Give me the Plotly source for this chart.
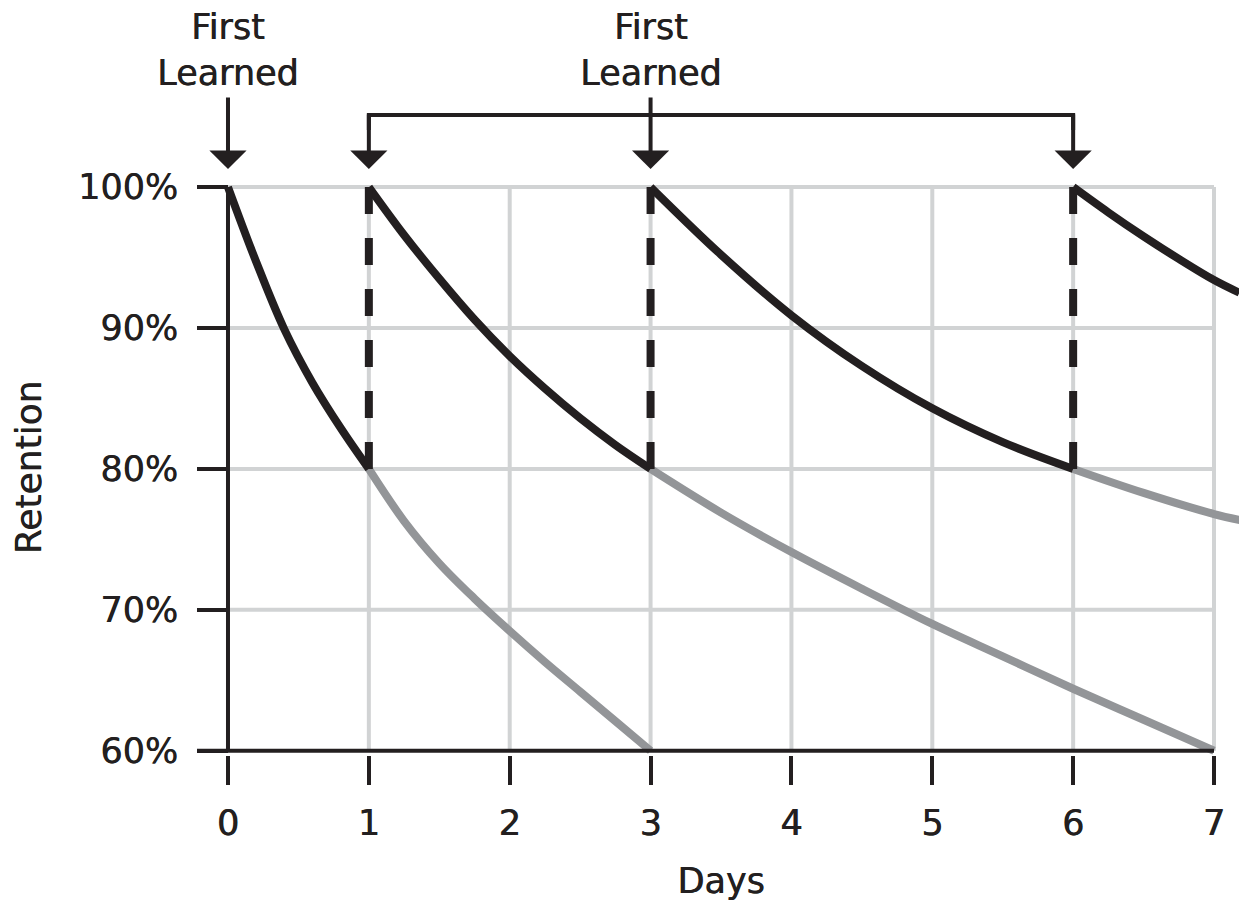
import plotly.graph_objects as go

# ---------------- data ----------------
day_ticks = [0, 1, 2, 3, 4, 5, 6, 7]
retention_ticks = [60, 70, 80, 90, 100]
retention_labels = ["60%", "70%", "80%", "90%", "100%"]
review_days = [1, 3, 6]
first_learned_days = [0, 3]
label_text = "First<br>Learned"
x_title = "Days"
y_title = "Retention"

# black curves: retention after each (re)learning
black_x1 = [0, 0.2, 0.4, 0.6, 0.8, 1]
black_y1 = [100, 94.7, 89.9, 86.1, 82.9, 80]
black_x2 = [1, 1.25, 1.5, 1.75, 2, 2.25, 2.5, 2.75, 3]
black_y2 = [100, 96.6, 93.5, 90.6, 88.0, 85.7, 83.6, 81.7, 80]
black_x3 = [3, 3.5, 4, 4.5, 5, 5.5, 6]
black_y3 = [100, 95.2, 90.9, 87.3, 84.3, 81.9, 80]
black_x4 = [6, 6.25, 6.5, 6.75, 7, 7.18]
black_y4 = [100, 98.2, 96.5, 94.9, 93.4, 92.5]

# gray curves: forgetting without review
gray_x1 = [1, 1.25, 1.5, 1.75, 2, 2.25, 2.5, 2.75, 3]
gray_y1 = [80, 76.3, 73.3, 70.8, 68.5, 66.3, 64.2, 62.1, 60]
gray_x2 = [3, 3.5, 4, 4.5, 5, 5.5, 6, 6.5, 7]
gray_y2 = [80, 76.9, 74.1, 71.5, 69.0, 66.7, 64.4, 62.2, 60]
gray_x3 = [6, 6.5, 7, 7.22]
gray_y3 = [80, 78.3, 76.8, 76.3]

# ---------------- style ----------------
INK = "#231f20"
GRAY = "#939598"
GRID = "#d1d3d4"
FONT = "DejaVu Sans"
SHADOW = "0.6px 0 0 #231f20"
OFF = 8  # page body margin
W, H = 1239, 893
ML, MR, MT, MB = 189, 2, 172, 146
x_range = [-0.22, 7.22]
y_range = [59.7, 100.5]

def fnt(size):
    return dict(family=FONT, size=size, color=INK, shadow=SHADOW)

fig = go.Figure()

line_kw = dict(width=8, shape="spline", smoothing=1.0)
for gx, gy in [(gray_x1, gray_y1), (gray_x2, gray_y2), (gray_x3, gray_y3)]:
    fig.add_trace(go.Scatter(x=gx, y=gy, mode="lines", line=dict(color=GRAY, **line_kw),
                             hoverinfo="skip", showlegend=False))
for bx, by in [(black_x1, black_y1), (black_x2, black_y2), (black_x3, black_y3), (black_x4, black_y4)]:
    fig.add_trace(go.Scatter(x=bx, y=by, mode="lines", line=dict(color=INK, **line_kw),
                             hoverinfo="skip", showlegend=False))
top, low = max(retention_ticks), 80
for d in review_days:
    fig.add_trace(go.Scatter(x=[d, d], y=[top, low], mode="lines", line=dict(color=INK, width=8, dash="27px,24px"),
                             hoverinfo="skip", showlegend=False))

shapes = []
for yv in retention_ticks[1:]:
    shapes.append(dict(type="line", xref="x", yref="y", x0=day_ticks[0], x1=day_ticks[-1], y0=yv, y1=yv,
                       line=dict(color=GRID, width=4), layer="below"))
for xv in day_ticks[1:]:
    shapes.append(dict(type="line", xref="x", yref="y", x0=xv, x1=xv, y0=retention_ticks[0], y1=retention_ticks[-1],
                       line=dict(color=GRID, width=4), layer="below"))
shapes.append(dict(type="line", xref="x", yref="y", x0=x_range[0], x1=day_ticks[-1], y0=retention_ticks[0],
                   y1=retention_ticks[0], line=dict(color=INK, width=4), layer="above"))
shapes.append(dict(type="line", xref="x", yref="y", x0=day_ticks[0], x1=day_ticks[0], y0=retention_ticks[0],
                   y1=retention_ticks[-1], line=dict(color=INK, width=4), layer="above"))

plot_h = H - MT - MB
def py(screen_px):
    return (H - MB - (screen_px - OFF)) / plot_h
y_br = py(115)
b0, b1 = review_days[0], review_days[-1]
shapes.append(dict(type="path", xref="x", yref="paper",
                   path=f"M {b0},{py(130)} L {b0},{y_br} L {b1},{y_br} L {b1},{py(130)}",
                   line=dict(color=INK, width=4)))

annotations = []
for d in first_learned_days:
    annotations.append(dict(x=d, y=top, xref="x", yref="y", text=label_text, showarrow=False, yshift=137,
                            font=fnt(35), align="center"))
    annotations.append(dict(x=d, y=top, xref="x", yref="y", text="", showarrow=True, ax=0, ay=-91,
                            arrowhead=1, arrowsize=1.55, arrowwidth=4, arrowcolor=INK, standoff=18))
for d in (b0, b1):
    annotations.append(dict(x=d, y=top, xref="x", yref="y", text="", showarrow=True, ax=0, ay=-74,
                            arrowhead=1, arrowsize=1.55, arrowwidth=4, arrowcolor=INK, standoff=18))

fig.update_layout(
    width=W, height=H, margin=dict(l=ML, r=MR, t=MT, b=MB, pad=0),
    paper_bgcolor="white", plot_bgcolor="white",
    font=fnt(35),
    shapes=shapes, annotations=annotations, showlegend=False,
    xaxis=dict(range=x_range, tickvals=day_ticks, ticktext=[str(d) for d in day_ticks],
               ticks="outside", ticklen=29, tickwidth=4, tickcolor=INK,
               showgrid=False, zeroline=False, showline=False, ticklabelstandoff=8,
               tickfont=fnt(35),
               title=dict(text=x_title, font=fnt(35), standoff=30)),
    yaxis=dict(range=y_range, tickvals=retention_ticks, ticktext=retention_labels,
               ticks="inside", ticklen=31, tickwidth=4, tickcolor=INK,
               showgrid=False, zeroline=False, showline=False,
               tickfont=fnt(35), ticklabelstandoff=18,
               title=dict(text=y_title, font=fnt(36), standoff=43)),
)

fig.write_html("out.html")
